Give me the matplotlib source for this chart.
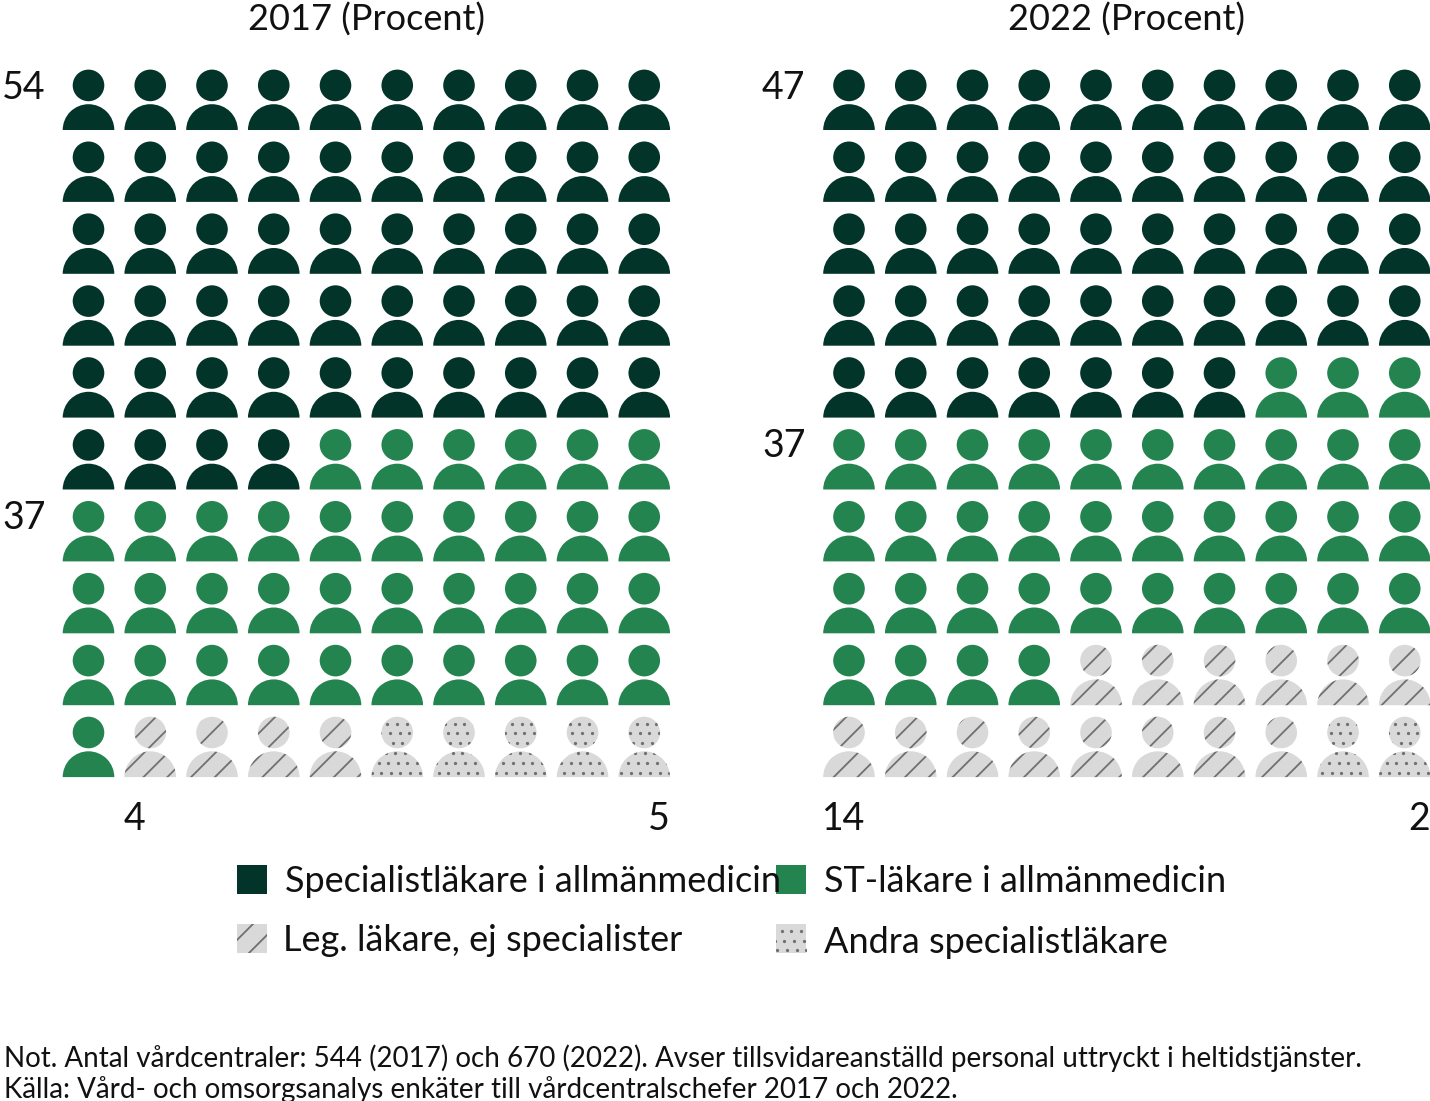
import numpy as np
import matplotlib
matplotlib.use("Agg")
import matplotlib.pyplot as plt
from matplotlib.patches import Circle, Wedge, Rectangle

plt.rcParams['font.family'] = ['Lato', 'DejaVu Sans']

years = ["2017 (Procent)", "2022 (Procent)"]
categories = ["Specialistläkare i allmänmedicin", "ST-läkare i allmänmedicin",
              "Leg. läkare, ej specialister", "Andra specialistläkare"]
values_2017 = [54, 37, 4, 5]
values_2022 = [47, 37, 14, 2]
note_lines = ["Not. Antal vårdcentraler: 544 (2017) och 670 (2022). Avser tillsvidareanställd personal uttryckt i heltidstjänster.",
              "Källa: Vård- och omsorgsanalys enkäter till vårdcentralschefer 2017 och 2022."]

DARK = "#03342a"
GREEN = "#248450"
GREY = "#d9d9d9"
PATTERN = "#707070"
TEXT = "#111111"

fig = plt.figure(figsize=(14.3, 11.01), dpi=100)
ax = fig.add_axes([0, 0, 1, 1])
ax.set_xlim(0, 1430)
ax.set_ylim(1101, 0)
ax.axis("off")


def add_stripes(patch, x0, x1, y0, y1, phase=873, step=23.8):
    # diagonal lines on x + y = const, clipped to the shape
    lo = x0 + y0
    hi = x1 + y1
    k = np.ceil((lo - phase) / step)
    s = phase + k * step
    while s < hi:
        line, = ax.plot([x0 - 5, x1 + 5], [s - x0 + 5, s - x1 - 5], color=PATTERN, lw=1.3, zorder=3)
        line.set_clip_path(patch)
        s += step


def add_dots(patch, x0, x1, y0, y1, ref=(390, 733.3), step=9.6, row=9.8, shear=2.6):
    xs, ys = [], []
    for j in range(int((y0 - ref[1]) / row) - 2, int((y1 - ref[1]) / row) + 3):
        y = ref[1] + j * row
        start = ref[0] + j * shear
        for i in range(int((x0 - start) / step) - 2, int((x1 - start) / step) + 3):
            xs.append(start + i * step)
            ys.append(y)
    dots = ax.scatter(xs, ys, s=5.5, color=PATTERN, linewidths=0, zorder=3)
    dots.set_clip_path(patch)


def draw_person(cx, bottom, kind):
    colors = [DARK, GREEN, GREY, GREY]
    head_y = bottom - 44.6
    head = Circle((cx, head_y), 15.8, fc=colors[kind], ec="none", zorder=2)
    body = Wedge((cx, bottom), 25.8, 180, 360, fc=colors[kind], ec="none", zorder=2)
    ax.add_patch(head)
    ax.add_patch(body)
    if kind == 2:
        add_stripes(head, cx - 16, cx + 16, head_y - 16, head_y + 16)
        add_stripes(body, cx - 26, cx + 26, bottom - 26, bottom)
    if kind == 3:
        add_dots(head, cx - 16, cx + 16, head_y - 16, head_y + 16)
        add_dots(body, cx - 26, cx + 26, bottom - 26, bottom)


def draw_panel(values, x_left):
    kinds = np.repeat(np.arange(4), values)
    for n, kind in enumerate(kinds):
        row, col = divmod(n, 10)
        draw_person(x_left + col * 61.75, 130 + row * 71.9, kind)


draw_panel(values_2017, 88.5)
draw_panel(values_2022, 849)

# rubriker
ax.text(366, 31, years[0], fontsize=26, ha="center", va="baseline", color=TEXT)
ax.text(1126, 31, years[1], fontsize=26, ha="center", va="baseline", color=TEXT)

# siffror
num = dict(fontsize=27, va="baseline", color=TEXT)
ax.text(2, 99, str(values_2017[0]), ha="left", **num)
ax.text(2, 529, str(values_2017[1]), ha="left", **num)
ax.text(134, 830, str(values_2017[2]), ha="center", **num)
ax.text(659, 830, str(values_2017[3]), ha="center", **num)
ax.text(762, 99, str(values_2022[0]), ha="left", **num)
ax.text(762, 457, str(values_2022[1]), ha="left", **num)
ax.text(844, 830, str(values_2022[2]), ha="center", **num)
ax.text(1419, 830, str(values_2022[3]), ha="center", **num)

# legend
boxes = [(237, 865), (776, 865), (237, 924), (776, 924)]
text_pos = [(285, 892), (824, 892), (283, 951), (824, 953)]
for i, (bx, by) in enumerate(boxes):
    rect = Rectangle((bx, by), 30, 29, fc=[DARK, GREEN, GREY, GREY][i], ec="none", zorder=2)
    ax.add_patch(rect)
    if i == 2:
        add_stripes(rect, bx, bx + 30, by, by + 29, phase=1177, step=25)
    if i == 3:
        add_dots(rect, bx, bx + 30, by, by + 29, ref=(781.7, 930.7))
    ax.text(text_pos[i][0], text_pos[i][1], categories[i], fontsize=26, va="baseline", color=TEXT)

# not
ax.text(4, 1067, note_lines[0], fontsize=20, va="baseline", color=TEXT)
ax.text(4, 1098, note_lines[1], fontsize=20, va="baseline", color=TEXT)

fig.savefig("out.png", dpi=100)
